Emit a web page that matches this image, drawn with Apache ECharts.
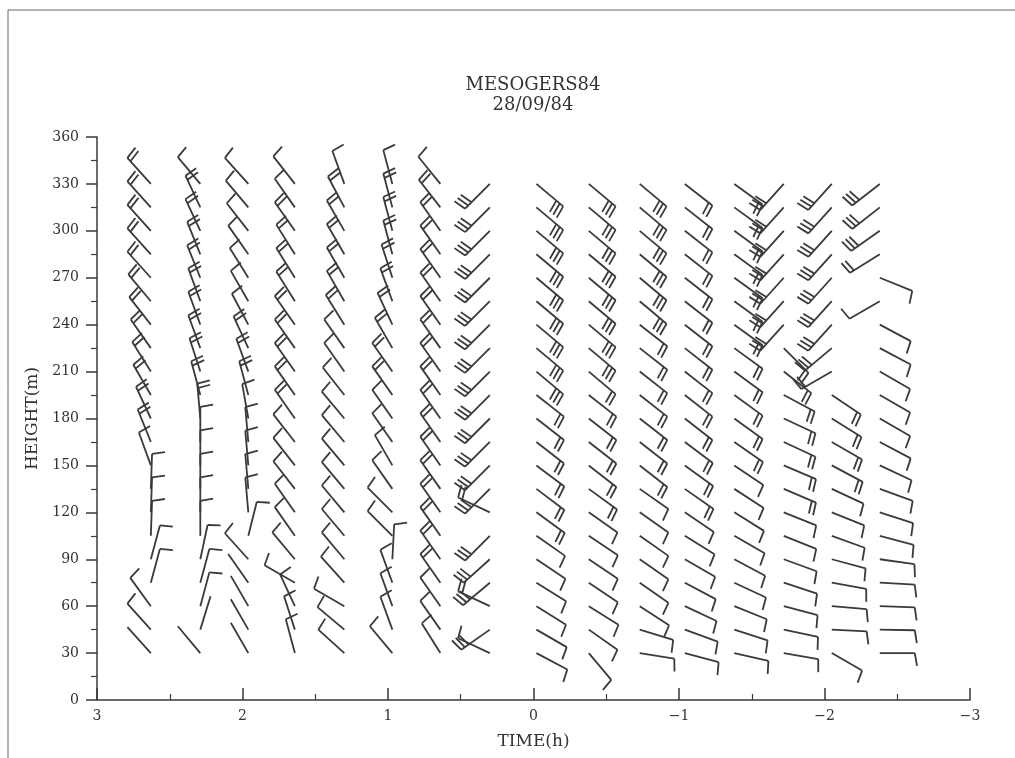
<!DOCTYPE html>
<html><head><meta charset="utf-8">
<script src="https://cdn.jsdelivr.net/npm/echarts@6/dist/echarts.min.js"></script>
<style>html,body{margin:0;padding:0;background:#fff}#c{width:1015px;height:758px}</style>
</head><body><div id="c"></div>
<script>
const titleText = 'MESOGERS84';
const subtitleText = '28/09/84';
const xName = 'TIME(h)';
const yName = 'HEIGHT(m)';
const heights = [30,45,60,75,90,105,120,135,150,165,180,195,210,225,240,255,270,285,300,315,330];
const times = [2.63, 2.29, 1.96, 1.64, 1.30, 0.97, 0.64, 0.30, -0.02, -0.38, -0.73, -1.04, -1.38, -1.72, -2.05, -2.38];
// staff direction (degrees clockwise from up), one row per sounding, bottom -> top
const dirs = [
  [318,318,324,15,15,2,2,2,340,338,335,330,328,325,322,320,318,318,318,318,318],
  [320,17,15,15,12,0,0,0,0,0,355,345,342,340,340,340,338,338,335,335,320],
  [330,330,330,325,318,14,355,355,355,355,350,345,340,335,332,330,328,325,322,320,318],
  [345,342,335,300,320,325,325,322,322,322,325,325,325,325,325,328,328,328,325,325,322],
  [312,310,300,318,320,320,320,320,320,320,320,322,325,325,328,330,330,330,330,332,340],
  [320,340,340,340,3,315,315,325,330,325,325,325,325,330,335,340,342,345,345,345,345],
  [328,325,325,325,325,325,325,325,325,325,325,325,325,325,325,325,325,325,325,322,321],
  [295,235,295,230,228,225,295,225,225,225,225,225,225,225,225,225,225,225,225,225,225],
  [118,120,122,122,124,125,126,127,127,128,128,128,130,130,130,130,130,130,130,130,130],
  [140,125,122,124,124,124,125,126,128,128,128,128,130,130,130,130,130,130,130,130,130],
  [99,107,123,125,125,125,125,125,128,128,128,128,128,128,128,130,130,130,130,130,130],
  [105,110,115,118,120,122,124,125,126,127,128,128,128,128,128,128,128,128,128,128,128],
  [103,108,112,115,118,120,122,123,124,125,126,126,126,126,126,126,126,126,126,126,126],
  [100,102,105,108,110,112,112,113,113,115,115,118,128,135,222,222,222,222,222,222,222],
  [120,93,95,100,105,110,112,115,118,120,122,124,240,230,222,222,222,222,222,222,222],
  [90,91,92,93,98,105,108,110,115,118,120,120,120,118,118,240,112,238,235,232,232]
];
// number of feathers (speed classes), same layout
const feathers = [
  [0,1,1,1,1,1,1,1,1,2,2,2,2,2,2,2,2,2,2,2,2],
  [0,0,1,1,1,1,1,1,1,1,2,2,2,2,2,2,2,2,2,2,1],
  [0,0,0,0,1,1,1,1,1,1,1,2,2,2,1,1,1,1,1,1,1],
  [1,1,1,1,1,1,1,1,1,1,2,2,2,2,2,2,2,2,2,1,1],
  [1,1,1,1,1,1,1,1,1,1,1,1,1,1,2,2,2,2,2,2,1],
  [1,1,1,1,1,1,1,1,1,1,1,2,2,2,2,2,2,2,2,2,1],
  [1,1,1,2,2,2,2,2,2,2,2,2,2,2,2,2,2,2,2,2,1],
  [1,3,2,3,3,3,2,3,3,3,3,3,3,3,3,3,3,3,3,3,3],
  [1,1,1,1,1,1,2,2,2,2,2,2,3,3,3,3,3,3,3,3,3],
  [1,1,1,1,1,1,1,2,2,2,2,2,2,3,3,3,3,3,3,3,3],
  [1,1,1,1,1,1,1,1,2,2,2,2,2,2,2,3,3,3,3,3,3],
  [1,1,1,1,1,1,1,2,2,2,2,2,2,2,2,2,2,2,2,2,2],
  [1,1,1,1,1,1,1,1,1,2,2,2,2,2,2,2,2,2,2,2,2],
  [1,1,1,1,1,1,1,2,2,2,2,2,2,2,3,3,3,3,3,3,3],
  [1,1,1,1,1,1,1,1,2,2,2,2,2,3,3,3,3,3,3,3,3],
  [1,1,1,1,1,1,1,1,1,1,1,1,1,1,1,1,1,2,3,3,3]
];

const data = [];
times.forEach((t, c) => {
  heights.forEach((h, i) => {
    if (dirs[c][i] != null) data.push([t, h, dirs[c][i], feathers[c][i]]);
  });
});

const INK = '#3a3a3a';
const FONT = '"DejaVu Serif", "Liberation Serif", serif';

function renderBarb(params, api) {
  const p = api.coord([api.value(0), api.value(1)]);
  const a = api.value(2) * Math.PI / 180;
  const n = api.value(3);
  const dx = Math.sin(a), dy = -Math.cos(a);
  const L = 35, F = 13, S = 4.5, th = 80 * Math.PI / 180;
  const tx = p[0] + dx * L, ty = p[1] + dy * L;
  const fx = dx * Math.cos(th) - dy * Math.sin(th);
  const fy = dx * Math.sin(th) + dy * Math.cos(th);
  const style = { stroke: INK, lineWidth: 1.8, fill: null };
  const children = [{ type: 'line', shape: { x1: p[0], y1: p[1], x2: tx, y2: ty }, style }];
  for (let k = 0; k < n; k++) {
    const bx = tx - dx * S * k, by = ty - dy * S * k;
    children.push({ type: 'line', shape: { x1: bx, y1: by, x2: bx + fx * F, y2: by + fy * F }, style });
  }
  return { type: 'group', children };
}

const chart = echarts.init(document.getElementById('c'), null, { renderer: 'canvas' });
chart.setOption({
  backgroundColor: '#fff',
  animation: false,
  grid: { left: 97, right: 45, top: 137, bottom: 58 },
  graphic: [
    { type: 'rect', shape: { x: 8, y: 10, width: 1020, height: 760 }, style: { fill: null, stroke: '#666', lineWidth: 1 }, silent: true },
    { type: 'text', x: 533, y: 76, style: { text: titleText, textAlign: 'center', font: '18px ' + FONT, fill: '#333' } },
    { type: 'text', x: 533, y: 96, style: { text: subtitleText, textAlign: 'center', font: '18px ' + FONT, fill: '#333' } }
  ],
  xAxis: {
    type: 'value', min: -3, max: 3, interval: 1, inverse: true,
    name: xName, nameLocation: 'middle', nameGap: 33,
    nameTextStyle: { fontFamily: FONT, fontSize: 17, color: '#333' },
    axisLine: { onZero: false, lineStyle: { color: INK, width: 1.5 } },
    axisTick: { inside: true, length: 12, lineStyle: { color: INK, width: 1.5 } },
    minorTick: { show: true, splitNumber: 2, length: 6, lineStyle: { color: INK, width: 1.2 } },
    axisLabel: { fontFamily: FONT, fontSize: 14, color: '#333', margin: 9,
      formatter: v => String(v).replace('-', '\u2212') },
    splitLine: { show: false }
  },
  yAxis: {
    type: 'value', min: 0, max: 360, interval: 30,
    name: yName, nameLocation: 'middle', nameGap: 56, nameRotate: 90,
    nameTextStyle: { fontFamily: FONT, fontSize: 17, color: '#333' },
    axisLine: { onZero: false, lineStyle: { color: INK, width: 1.5 } },
    axisTick: { inside: false, length: 11, lineStyle: { color: INK, width: 1.5 } },
    minorTick: { show: true, splitNumber: 2, length: 6, lineStyle: { color: INK, width: 1.2 } },
    axisLabel: { fontFamily: FONT, fontSize: 14, color: '#333', margin: 18 },
    splitLine: { show: false }
  },
  series: [{
    type: 'custom',
    renderItem: renderBarb,
    data: data,
    encode: { x: 0, y: 1 },
    clip: false,
    silent: true
  }]
});
</script>
</body></html>
